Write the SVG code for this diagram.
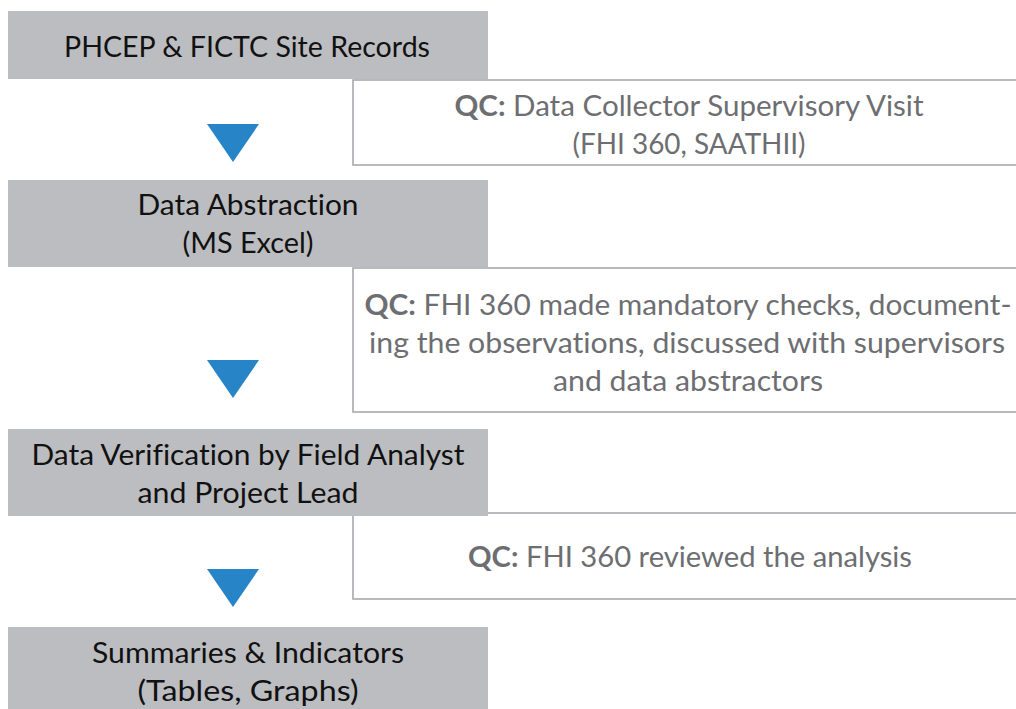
<svg xmlns="http://www.w3.org/2000/svg" width="1016" height="709" viewBox="0 0 1016 709">
  <style>
    .step { fill: #BCBDC0; }
    .qc { fill: #FFFFFF; stroke: #A7A9AC; stroke-width: 1.6; }
    .arrow { fill: #2784C6; }
    text { font-family: Lato, "Liberation Sans", Arial, sans-serif; font-size: 28px; text-anchor: middle; font-variant-ligatures: none; }
    .st { fill: #111111; }
    .qt { fill: #6D6E71; }
    .qt .b { font-weight: bold; }
  </style>

  <!-- quality-control notes sit behind the process steps -->
  <g id="qc1">
    <rect class="qc" x="353" y="80" width="670" height="85"/>
    <text class="qt" x="689" y="116" textLength="469" lengthAdjust="spacingAndGlyphs"><tspan class="b">QC:</tspan> Data Collector Supervisory Visit</text>
    <text class="qt" x="689" y="154" textLength="233" lengthAdjust="spacingAndGlyphs">(FHI 360, SAATHII)</text>
  </g>
  <g id="qc2">
    <rect class="qc" x="353" y="268" width="670" height="144"/>
    <text class="qt" x="688" y="315" textLength="647" lengthAdjust="spacingAndGlyphs"><tspan class="b">QC:</tspan> FHI 360 made mandatory checks, document-</text>
    <text class="qt" x="687" y="353" textLength="636" lengthAdjust="spacingAndGlyphs">ing the observations, discussed with supervisors</text>
    <text class="qt" x="688" y="391" textLength="270" lengthAdjust="spacingAndGlyphs">and data abstractors</text>
  </g>
  <g id="qc3">
    <rect class="qc" x="353" y="513" width="670" height="86"/>
    <text class="qt" x="690" y="567" textLength="444" lengthAdjust="spacingAndGlyphs"><tspan class="b">QC:</tspan> FHI 360 reviewed the analysis</text>
  </g>

  <!-- process steps -->
  <g id="step1">
    <rect class="step" x="8" y="11" width="480" height="68"/>
    <text class="st" x="247" y="57" textLength="366" lengthAdjust="spacingAndGlyphs">PHCEP &amp; FICTC Site Records</text>
  </g>
  <g id="step2">
    <rect class="step" x="8" y="180" width="480" height="87"/>
    <text class="st" x="248" y="215" textLength="221" lengthAdjust="spacingAndGlyphs">Data Abstraction</text>
    <text class="st" x="248" y="253" textLength="131" lengthAdjust="spacingAndGlyphs">(MS Excel)</text>
  </g>
  <g id="step3">
    <rect class="step" x="8" y="429" width="480" height="87"/>
    <text class="st" x="248" y="465" textLength="433" lengthAdjust="spacingAndGlyphs">Data Verification by Field Analyst</text>
    <text class="st" x="248" y="503" textLength="221" lengthAdjust="spacingAndGlyphs">and Project Lead</text>
  </g>
  <g id="step4">
    <rect class="step" x="8" y="627" width="480" height="90"/>
    <text class="st" x="248" y="663" textLength="312" lengthAdjust="spacingAndGlyphs">Summaries &amp; Indicators</text>
    <text class="st" x="248" y="701" textLength="221" lengthAdjust="spacingAndGlyphs">(Tables, Graphs)</text>
  </g>

  <!-- flow arrows between steps -->
  <g id="connectors">
    <polygon class="arrow" points="207,124 259,124 233,162"/>
    <polygon class="arrow" points="207,360 259,360 233,398"/>
    <polygon class="arrow" points="207,569 259,569 233,607"/>
  </g>
</svg>
